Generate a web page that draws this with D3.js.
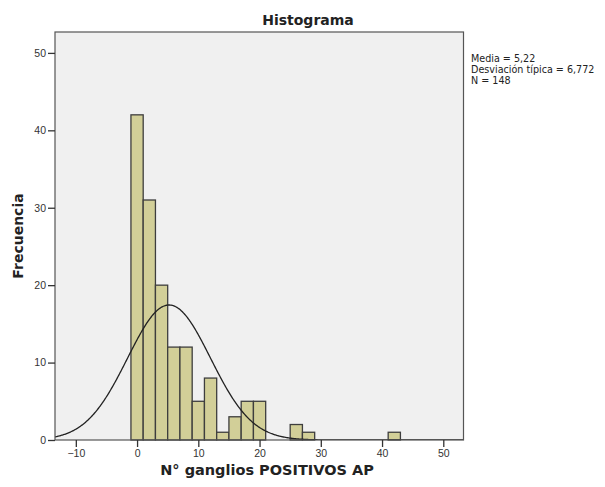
<!DOCTYPE html>
<html>
<head>
<meta charset="utf-8">
<script src="https://cdn.jsdelivr.net/npm/d3@7"></script>
<style>
  body { margin: 0; background: #fff; }
  svg { display: block; font-family: "DejaVu Sans", sans-serif; }
  .tick text { fill: #333; font-size: 10.5px; }
  .tick line { stroke: #333; }
  .domain { display: none; }
</style>
</head>
<body>
<div id="chart"></div>
<script>
// histogram bins (lower edge, width 2) and counts
const binLower = [-1, 1, 3, 5, 7, 9, 11, 13, 15, 17, 19, 21, 23, 25, 27, 29, 31, 33, 35, 37, 39, 41];
const counts   = [42, 31, 20, 12, 12, 5, 8, 1, 3, 5, 5, 0, 0, 2, 1, 0, 0, 0, 0, 0, 0, 1];
const binWidth = 2;
const xTicks = [-10, 0, 10, 20, 30, 40, 50];
const yTicks = [0, 10, 20, 30, 40, 50];
const stats = { mean: 5.22, sd: 6.772, n: 148 };
const statLines = ['Media = 5,22', 'Desviación típica = 6,772', 'N = 148'];

const width = 605, height = 487;
const m = { left: 55, right: 463.5, top: 32, bottom: 440 };

const svg = d3.select('#chart').append('svg')
  .attr('width', width)
  .attr('height', height);

const x = d3.scaleLinear().domain([-13.4, 53.3]).range([m.left, m.right]);
const y = d3.scaleLinear().domain([0, 52.7]).range([m.bottom, m.top]);

svg.append('rect')
  .attr('x', m.left).attr('y', m.top)
  .attr('width', m.right - m.left).attr('height', m.bottom - m.top)
  .attr('fill', '#f0f0f0');

svg.append('clipPath').attr('id', 'plot-clip')
  .append('rect')
  .attr('x', m.left).attr('y', m.top)
  .attr('width', m.right - m.left).attr('height', m.bottom - m.top);

const bars = binLower.map((x0, i) => ({ x0, x1: x0 + binWidth, count: counts[i] })).filter((d) => d.count > 0);

svg.append('g')
  .selectAll('rect')
  .data(bars)
  .join('rect')
  .attr('x', (d) => x(d.x0))
  .attr('y', (d) => y(d.count))
  .attr('width', (d) => x(d.x1) - x(d.x0))
  .attr('height', (d) => y(0) - y(d.count))
  .attr('fill', '#d2cf98')
  .attr('stroke', '#3e3e3e')
  .attr('stroke-width', 1.3);

// normal curve scaled to the histogram: n * binWidth * pdf(mean, sd)
const pdf = (v) => Math.exp(-0.5 * ((v - stats.mean) / stats.sd) ** 2) / (stats.sd * Math.sqrt(2 * Math.PI));
const curveXs = d3.range(x.domain()[0], x.domain()[1] + 0.1, 0.1);
svg.append('path')
  .datum(curveXs)
  .attr('clip-path', 'url(#plot-clip)')
  .attr('fill', 'none')
  .attr('stroke', '#222')
  .attr('stroke-width', 1.3)
  .attr('d', d3.line()
    .x((v) => x(v))
    .y((v) => y(stats.n * binWidth * pdf(v))));

svg.append('rect')
  .attr('x', m.left).attr('y', m.top)
  .attr('width', m.right - m.left).attr('height', m.bottom - m.top)
  .attr('fill', 'none')
  .attr('stroke', '#555')
  .attr('stroke-width', 1.2);

svg.append('g')
  .attr('transform', `translate(0,${m.bottom})`)
  .call(d3.axisBottom(x).tickValues(xTicks).tickSize(7).tickPadding(3).tickFormat((d) => d < 0 ? '−' + Math.abs(d) : d));

svg.append('g')
  .attr('transform', `translate(${m.left},0)`)
  .call(d3.axisLeft(y).tickValues(yTicks).tickSize(7).tickPadding(2));

svg.selectAll('.tick line').attr('stroke-width', 1.3);

svg.append('text')
  .attr('x', 308).attr('y', 25)
  .attr('text-anchor', 'middle')
  .attr('font-size', 14).attr('font-weight', 'bold').attr('fill', '#222')
  .text('Histograma');

svg.append('text')
  .attr('x', 267).attr('y', 475)
  .attr('text-anchor', 'middle')
  .attr('font-size', 14.5).attr('font-weight', 'bold').attr('fill', '#222')
  .text('N° ganglios POSITIVOS AP');

svg.append('text')
  .attr('transform', 'translate(23,236) rotate(-90)')
  .attr('text-anchor', 'middle')
  .attr('font-size', 14).attr('font-weight', 'bold').attr('fill', '#222')
  .text('Frecuencia');

svg.append('g')
  .selectAll('text')
  .data(statLines)
  .join('text')
  .attr('x', 471)
  .attr('y', (d, i) => 62 + i * 11.2)
  .attr('font-size', 9.6)
  .attr('fill', '#222')
  .text((d) => d);
</script>
</body>
</html>
